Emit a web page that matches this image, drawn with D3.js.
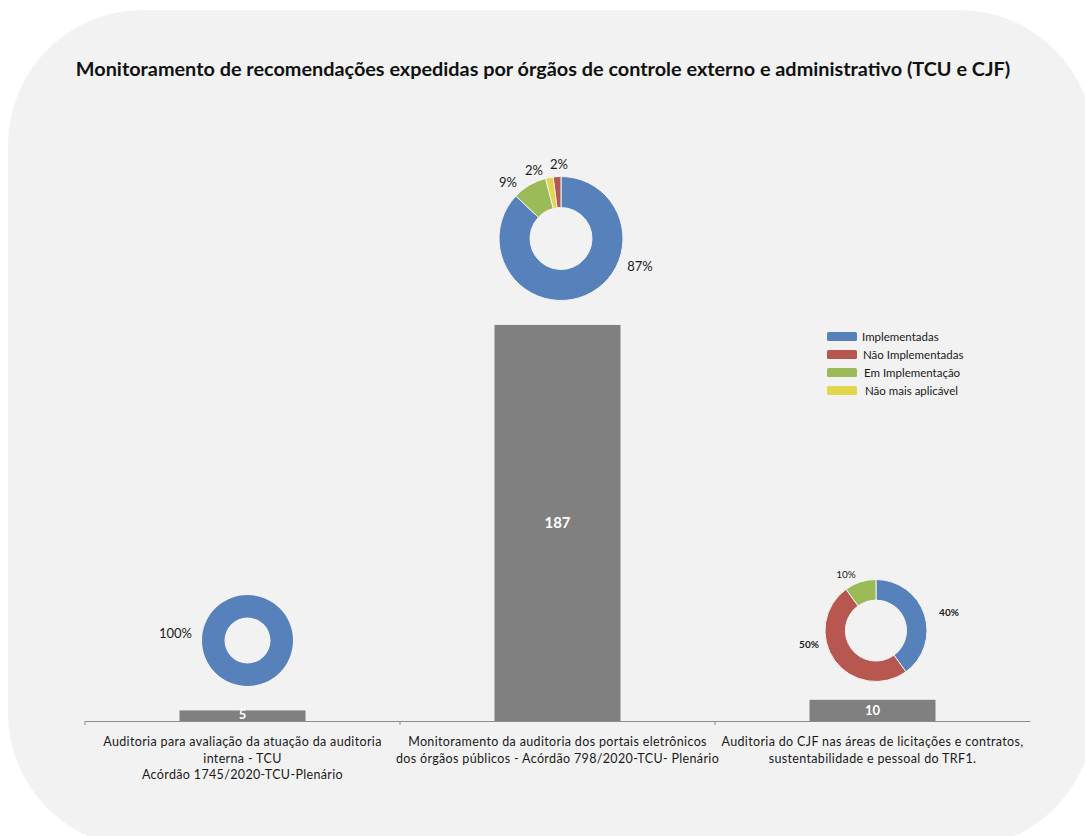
<!DOCTYPE html>
<html>
<head>
<meta charset="utf-8">
<script src="https://cdn.jsdelivr.net/npm/d3@7"></script>
<style>
  html, body { margin: 0; padding: 0; background: #ffffff; }
  svg { display: block; font-family: Lato, "Open Sans", sans-serif; }
</style>
</head>
<body>
<svg id="chart" width="1085" height="836"></svg>
<script>
// ---- data ----
const title = "Monitoramento de recomendações expedidas por órgãos de controle externo e administrativo (TCU e CJF)";

const categories = [
  "Auditoria para avaliação da atuação da auditoria\ninterna - TCU\nAcórdão 1745/2020-TCU-Plenário",
  "Monitoramento da auditoria dos portais eletrônicos\ndos órgãos públicos - Acórdão 798/2020-TCU- Plenário",
  "Auditoria do CJF nas áreas de licitações e contratos,\nsustentabilidade e pessoal do TRF1."
];
const totals = [5, 187, 10];

const statusNames = ["Implementadas", "Não Implementadas", "Em Implementação", "Não mais aplicável"];
const statusColors = ["#5681bb", "#b8574f", "#9bbb59", "#e3d64c"];

// status share (%) per audit, in the order the slices run clockwise from 12 o'clock
const shares1 = [{s: "Implementadas", v: 100}];
const shares2 = [
  {s: "Implementadas", v: 87},
  {s: "Em Implementação", v: 9},
  {s: "Não mais aplicável", v: 2},
  {s: "Não Implementadas", v: 2}
];
const shares3 = [
  {s: "Implementadas", v: 40},
  {s: "Não Implementadas", v: 50},
  {s: "Em Implementação", v: 10}
];

// ---- layout ----
const svg = d3.select("#chart");

// rounded panel
svg.append("rect")
  .attr("x", 8).attr("y", 10)
  .attr("width", 1086).attr("height", 838)
  .attr("rx", 135).attr("ry", 135)
  .attr("fill", "#f2f2f2");

// title, fitted to its line width
const t = svg.append("text")
  .attr("x", 543).attr("y", 76)
  .attr("text-anchor", "middle")
  .attr("font-weight", "bold")
  .attr("font-size", 17)
  .attr("fill", "#111")
  .text(title);
const tl = t.node().getComputedTextLength();
t.attr("font-size", 17 * 935 / tl);

// scales
const x = d3.scaleBand().domain(categories).range([85, 1030]).paddingInner(0).paddingOuter(0);
const y = d3.scaleLinear().domain([0, 200]).range([721, 297.4]);
const barW = x.bandwidth() * 0.4;

// axis line (category boundaries as ticks)
const axis = d3.axisBottom(x).tickSize(0).tickFormat("");
const gAxis = svg.append("g").attr("transform", `translate(0,${y(0)})`).call(axis);
gAxis.select(".domain").attr("stroke", "#8c8c8c").attr("stroke-width", 1.2);
gAxis.selectAll("line.bound")
  .data(categories)
  .enter().append("line")
  .attr("class", "bound")
  .attr("x1", d => x(d)).attr("x2", d => x(d))
  .attr("y1", 0).attr("y2", 4)
  .attr("stroke", "#8c8c8c");

// bars
svg.append("g").selectAll("rect")
  .data(categories)
  .enter().append("rect")
  .attr("x", d => x(d) + (x.bandwidth() - barW) / 2)
  .attr("width", barW)
  .attr("y", (d, i) => y(totals[i]))
  .attr("height", (d, i) => y(0) - y(totals[i]))
  .attr("fill", "#808080");

// bar value labels
svg.append("g").selectAll("text")
  .data(categories)
  .enter().append("text")
  .attr("x", d => x(d) + x.bandwidth() / 2)
  .attr("y", (d, i) => Math.min((y(totals[i]) + y(0)) / 2, y(0) - 7))
  .attr("dy", "0.36em")
  .attr("text-anchor", "middle")
  .attr("font-weight", "bold")
  .attr("font-size", (d, i) => totals[i] > 50 ? 15 : 13)
  .attr("fill", "#ffffff")
  .text((d, i) => totals[i]);

// category labels
categories.forEach(c => {
  const lines = c.split("\n");
  const tx = svg.append("text")
    .attr("text-anchor", "middle")
    .attr("font-size", 12.5)
    .attr("letter-spacing", 0.35)
    .attr("fill", "#1a1a1a");
  lines.forEach((ln, i) => {
    tx.append("tspan")
      .attr("x", x(c) + x.bandwidth() / 2)
      .attr("y", 746 + i * 16.5)
      .text(ln);
  });
});

// donuts
const color = d3.scaleOrdinal().domain(statusNames).range(statusColors);
const pie = d3.pie().value(d => d.v).sort(null);

function donut(data, cx, cy, rOut, rIn, labels, fontSize, boldMin) {
  const g = svg.append("g").attr("transform", `translate(${cx},${cy})`);
  const arc = d3.arc().innerRadius(rIn).outerRadius(rOut);
  g.selectAll("path")
    .data(pie(data))
    .enter().append("path")
    .attr("d", arc)
    .attr("fill", d => color(d.data.s))
    .attr("stroke", data.length > 1 ? "#f2f2f2" : "none")
    .attr("stroke-width", 1);
  g.selectAll("text")
    .data(pie(data))
    .enter().append("text")
    .attr("x", (d, i) => labels[i].dx)
    .attr("y", (d, i) => labels[i].dy)
    .attr("dy", "0.36em")
    .attr("text-anchor", "middle")
    .attr("font-size", fontSize)
    .attr("font-weight", d => d.data.v >= boldMin ? "bold" : "normal")
    .attr("fill", "#1a1a1a")
    .text(d => d.data.v + "%");
}

donut(shares1, 247.5, 640.5, 45.5, 23, [{dx: -72, dy: -7}], 13, 999);
donut(shares2, 561, 238.5, 62, 31,
  [{dx: 79, dy: 28}, {dx: -53, dy: -56}, {dx: -27, dy: -68}, {dx: -2, dy: -74}], 13, 999);
donut(shares3, 876, 630.5, 51, 30.5,
  [{dx: 73, dy: -18}, {dx: -67, dy: 14}, {dx: -30, dy: -56}], 10, 40);

// legend
const lg = svg.append("g").attr("transform", "translate(827,332)");
statusNames.forEach((n, i) => {
  lg.append("rect")
    .attr("x", 0).attr("y", i * 18)
    .attr("width", 30).attr("height", 9)
    .attr("rx", 1.5)
    .attr("fill", statusColors[i]);
  lg.append("text")
    .attr("x", 35 + i)
    .attr("y", i * 18 + 4.5)
    .attr("dy", "0.36em")
    .attr("font-size", 11.5)
    .attr("fill", "#1a1a1a")
    .text(n);
});
</script>
</body>
</html>
